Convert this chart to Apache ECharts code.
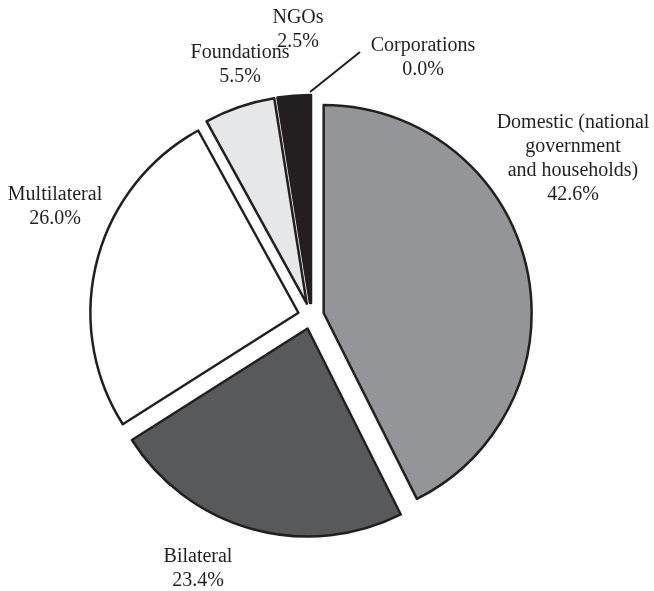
<!DOCTYPE html>
<html>
<head>
<meta charset="utf-8">
<script src="https://cdn.jsdelivr.net/npm/echarts@6/dist/echarts.min.js"></script>
<style>html,body{margin:0;padding:0;background:#fff}#chart{width:654px;height:591px}</style>
</head>
<body>
<div id="chart"></div>
<script>
const categories = ["Domestic (national\ngovernment\nand households)", "Bilateral", "Multilateral", "Foundations", "NGOs", "Corporations"];
const values = [42.6, 23.4, 26.0, 5.5, 2.5, 0.0];
const colors = ["#939598", "#58595b", "#ffffff", "#e6e7e8", "#231f20", "#231f20"];

// label positions (centre of text block), in pixels — layout only
const labelPos = [[573, 159], [198, 569], [55, 207], [240, 65], [298, 30], [423, 58]];

const chart = echarts.init(document.getElementById('chart'), null, {renderer: 'canvas'});

const labelGraphics = categories.map((c, i) => ({
  type: 'text',
  x: labelPos[i][0],
  y: labelPos[i][1],
  silent: true,
  style: {
    text: c + '\n' + values[i].toFixed(1) + '%',
    fontFamily: 'Liberation Serif',
    fontSize: 20,
    lineHeight: 24,
    fill: '#231f20',
    align: 'center',
    verticalAlign: 'middle'
  }
}));

chart.setOption({
  animation: false,
  backgroundColor: '#ffffff',
  graphic: labelGraphics.concat([{
    type: 'line',
    silent: true,
    shape: {x1: 310, y1: 92, x2: 360, y2: 52},
    style: {stroke: '#231f20', lineWidth: 2}
  }]),
  series: [{
    type: 'pie',
    center: [311, 316],
    radius: 208,
    startAngle: 90,
    clockwise: true,
    selectedMode: 'multiple',
    selectedOffset: 13,
    avoidLabelOverlap: false,
    emphasis: {disabled: true},
    itemStyle: {borderColor: '#231f20', borderWidth: 2.5},
    label: {show: false},
    labelLine: {show: false},
    data: categories.map((c, i) => ({
      name: c,
      value: values[i],
      selected: true,
      itemStyle: {color: colors[i]}
    }))
  }]
});
</script>
</body>
</html>
